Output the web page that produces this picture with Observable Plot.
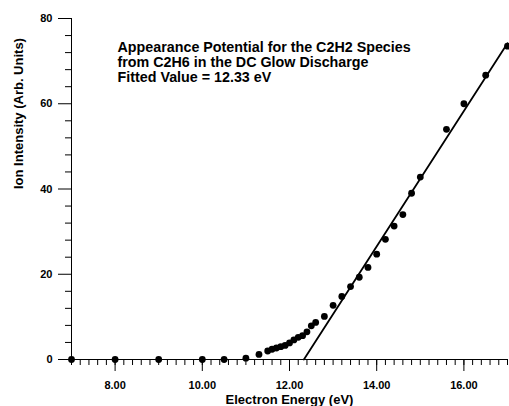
<!DOCTYPE html>
<html><head><meta charset="utf-8">
<script src="https://cdn.jsdelivr.net/npm/d3@7"></script>
<script src="https://cdn.jsdelivr.net/npm/@observablehq/plot@0.6"></script>
<style>body{margin:0;background:#fff}</style>
</head><body><div id="chart"></div>
<script>
// Measured points
const energy = [7, 8, 9, 10, 10.5, 11, 11.3, 11.5, 11.6, 11.7, 11.8, 11.9, 12.0, 12.1, 12.2, 12.3, 12.4, 12.5, 12.6, 12.8, 13.0, 13.2, 13.4, 13.6, 13.8, 14.0, 14.2, 14.4, 14.6, 14.8, 15.0, 15.6, 16.0, 16.5, 17.0];
const intensity = [0, 0, 0, 0, 0, 0.3, 1.2, 2.0, 2.4, 2.7, 3.0, 3.3, 3.9, 4.6, 5.2, 5.6, 6.5, 7.9, 8.7, 10.1, 12.7, 14.8, 17.1, 19.3, 21.6, 24.7, 28.2, 31.3, 34.0, 39.0, 42.8, 54.0, 60.0, 66.7, 73.5];
// Fitted line
const fitEnergy = [12.33, 17.0];
const fitIntensity = [0, 74.2];
// Ticks
const xMajor = [8, 10, 12, 14, 16];
const xMinor = d3.range(35, 86).map(d => d / 5);
const yMajor = [0, 20, 40, 60, 80];
const yMinor = [4, 8, 12, 16, 24, 28, 32, 36, 44, 48, 52, 56, 64, 68, 72, 76];
// Texts
const titleLines = ["Appearance Potential for the C2H2 Species", "from C2H6 in the DC Glow Discharge", "Fitted Value = 12.33 eV"];
const xLabel = "Electron Energy (eV)";
const yLabel = "Ion Intensity (Arb. Units)";

const points = energy.map((e, i) => ({e, v: intensity[i]}));
const fit = fitEnergy.map((e, i) => ({e, v: fitIntensity[i]}));

const chart = Plot.plot({
  width: 509,
  height: 406,
  marginLeft: 71,
  marginRight: 2,
  marginTop: 18,
  marginBottom: 47,
  style: {fontFamily: "'Liberation Sans', Arial, sans-serif", fontWeight: "bold", fontSize: "11px", background: "#fff", color: "#000", overflow: "visible"},
  x: {domain: [7, 17]},
  y: {domain: [0, 80]},
  marks: [
    Plot.axisY({ticks: yMinor, tickSize: 6, tickFormat: () => "", label: null}),
    Plot.axisY({ticks: yMajor, tickSize: 13, tickPadding: 6, tickFormat: d3.format("d"), label: null}),
    Plot.axisX({ticks: xMinor, tickSize: 6, tickFormat: () => "", label: null}),
    Plot.axisX({ticks: xMajor, tickSize: 12, tickPadding: 10, tickFormat: d3.format(".2f"), label: null}),
    Plot.ruleX([7], {stroke: "#000"}),
    Plot.ruleY([0], {stroke: "#000"}),
    Plot.line(fit, {x: "e", y: "v", stroke: "#000", strokeWidth: 1.8}),
    Plot.dot(points, {x: "e", y: "v", r: 3.4, fill: "#000", stroke: "none"}),
    Plot.text([titleLines.join("\n")], {frameAnchor: "top-left", textAnchor: "start", lineAnchor: "top", dx: 46, dy: 23, fontSize: 14.3, lineHeight: 1.05}),
    Plot.text([xLabel], {frameAnchor: "bottom", lineAnchor: "middle", dy: 40.5, fontSize: 13}),
    Plot.text([yLabel], {frameAnchor: "left", lineAnchor: "middle", rotate: -90, dx: -53, fontSize: 13})
  ]
});
document.getElementById("chart").appendChild(chart);
</script>
</body></html>
